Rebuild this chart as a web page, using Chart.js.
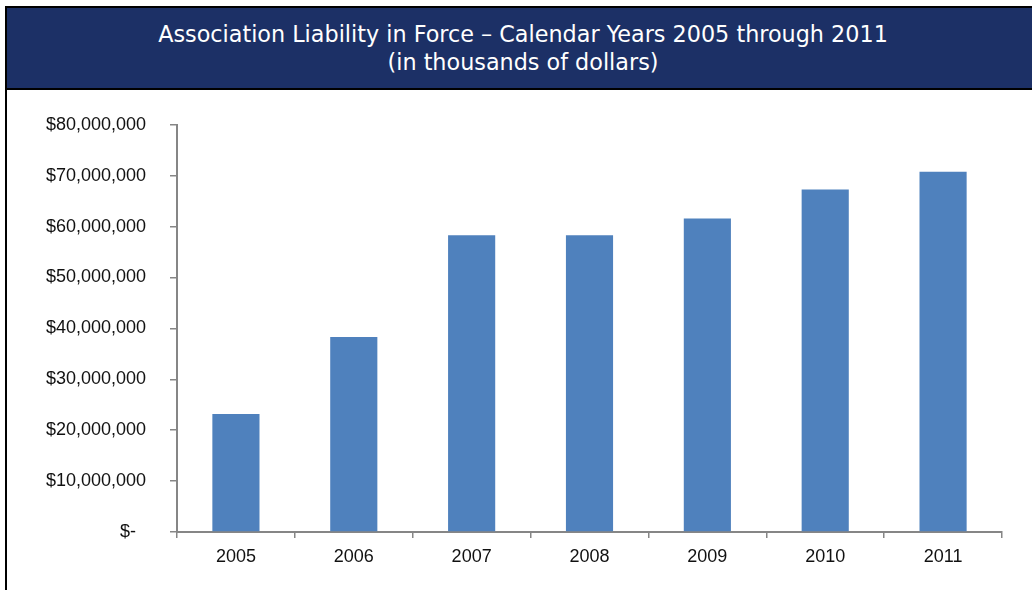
<!DOCTYPE html>
<html>
<head>
<meta charset="utf-8">
<script src="https://cdn.jsdelivr.net/npm/chart.js@4.4.1/dist/chart.umd.min.js"></script>
<style>
    body { margin: 0; background: #fff; overflow: hidden; }
    #frame {
        position: absolute; left: 5px; top: 6px;
        width: 1032px; height: 600px;
        border: 2px solid #000;
    }
    #header {
        height: 82px;
        background: #1c3066;
        border-bottom: 2px solid #000;
        color: #fff;
        font-family: 'DejaVu Sans', sans-serif;
        font-size: 22.3px;
        line-height: 28px;
        text-align: center;
        box-sizing: border-box;
        padding-top: 12px;
    }
    #chartBox { position: relative; width: 1025px; height: 500px; }
</style>
</head>
<body>
<div id="frame">
    <div id="header">Association Liability in Force – Calendar Years 2005 through 2011<br>(in thousands of dollars)</div>
    <div id="chartBox"><canvas id="barChart"></canvas></div>
</div>
<script>
const years = ['2005', '2006', '2007', '2008', '2009', '2010', '2011'];
const liability = [23200000, 38300000, 58300000, 58300000, 61600000, 67300000, 70800000];
const yTicks = [0, 10000000, 20000000, 30000000, 40000000, 50000000, 60000000, 70000000, 80000000];

const axisGrey = '#868686';
const tickFont = { family: 'Liberation Sans', size: 18 };

new Chart(document.getElementById('barChart'), {
    type: 'bar',
    data: {
        labels: years,
        datasets: [{
            label: 'Liability in force',
            data: liability,
            backgroundColor: '#4f81bd',
            borderWidth: 0,
            categoryPercentage: 0.8,
            barPercentage: 0.5
        }]
    },
    options: {
        responsive: true,
        maintainAspectRatio: false,
        animation: false,
        layout: { padding: { top: 34, right: 30, bottom: 0, left: 0 } },
        plugins: {
            legend: { display: false },
            tooltip: { enabled: false }
        },
        scales: {
            x: {
                grid: {
                    offset: true,
                    drawOnChartArea: false,
                    drawTicks: true,
                    tickLength: 6,
                    color: axisGrey,
                    lineWidth: 1.5
                },
                border: { color: axisGrey, width: 2 },
                ticks: { color: '#111', font: tickFont, padding: 8 },
                afterFit: (scale) => { scale.height = 58; }
            },
            y: {
                min: 0,
                max: 80000000,
                afterBuildTicks: (scale) => {
                    scale.ticks = yTicks.map(v => ({ value: v }));
                },
                grid: {
                    drawOnChartArea: false,
                    drawTicks: true,
                    tickLength: 7,
                    color: axisGrey,
                    lineWidth: 1.5
                },
                border: { color: axisGrey, width: 2 },
                ticks: {
                    color: '#111',
                    font: tickFont,
                    padding: 24,
                    callback: (v) => v === 0 ? '$-  ' : '$' + v.toLocaleString('en-US')
                },
                afterFit: (scale) => { scale.width = 170; }
            }
        }
    }
});
</script>
</body>
</html>
